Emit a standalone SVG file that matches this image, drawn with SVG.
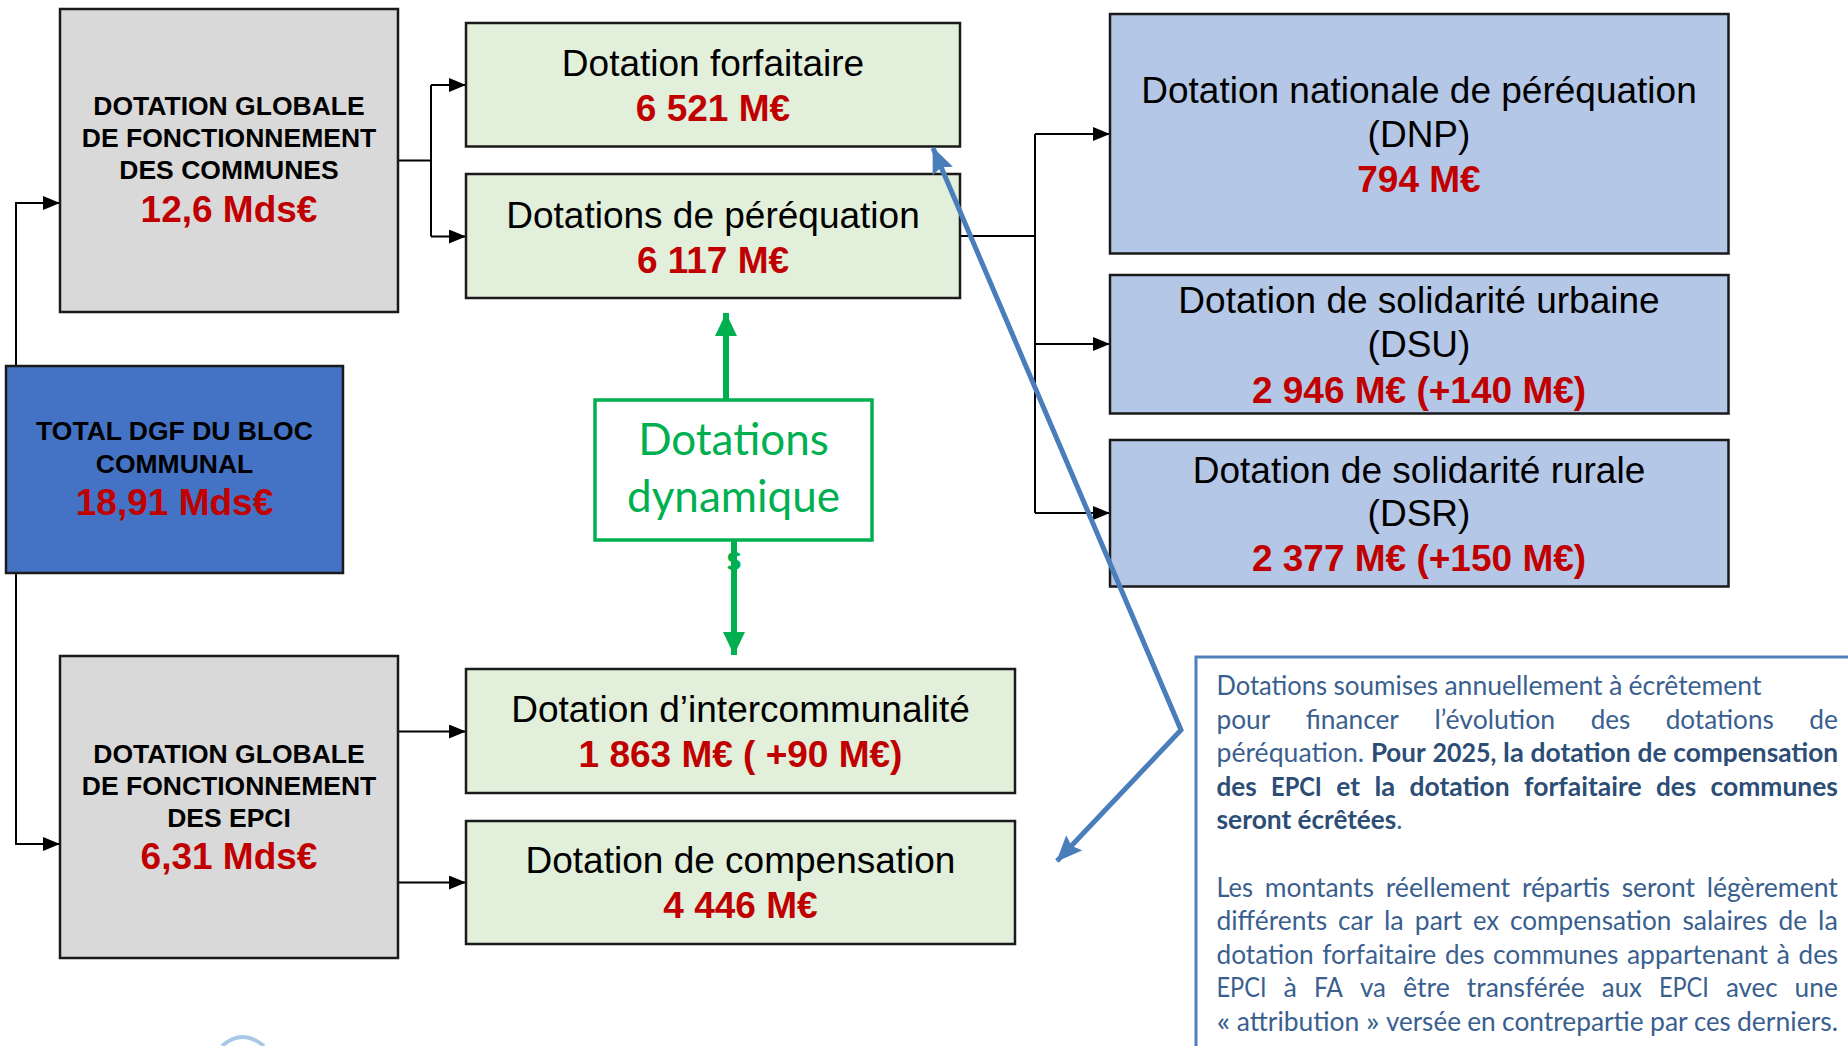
<svg xmlns="http://www.w3.org/2000/svg" width="1848" height="1046" viewBox="0 0 1848 1046">
<style>
.box{stroke:#1a1a1a;stroke-width:2.5}
.grey{fill:#d9d9d9}
.green{fill:#e2efda}
.blue{fill:#b4c7e7}
.total{fill:#4472c4}
.cap{font-family:"Liberation Sans",Arial,sans-serif;font-weight:bold;font-size:26.5px;fill:#000;text-anchor:middle}
.big{font-family:"Liberation Sans",Arial,sans-serif;font-weight:bold;font-size:37px;fill:#c00000;text-anchor:middle}
.lbl{font-family:"Liberation Sans",Arial,sans-serif;font-size:37px;fill:#000;text-anchor:middle}
.dyn{font-family:Lato,"Open Sans",sans-serif;font-size:44px;fill:#00b050;text-anchor:middle}
.note{font-family:Lato,"Open Sans",sans-serif;font-size:26px;fill:#3a5f8f}
.nb{font-weight:bold;fill:#2c4d75}
.conn{stroke:#000;stroke-width:2;fill:none}
</style>
<defs>
<marker id="ah" viewBox="0 0 17 14" refX="17" refY="7" markerWidth="17" markerHeight="14" markerUnits="userSpaceOnUse" orient="auto">
<path d="M0,0 L17,7 L0,14 z" fill="#000"/>
</marker>
<marker id="ahb" viewBox="0 0 26 22" refX="25" refY="11" markerWidth="26" markerHeight="22" markerUnits="userSpaceOnUse" orient="auto-start-reverse">
<path d="M0,0 L26,11 L0,22 L4,11 z" fill="#4a7ebb"/>
</marker>
<marker id="ahg" viewBox="0 0 23 22" refX="23" refY="11" markerWidth="23" markerHeight="22" markerUnits="userSpaceOnUse" orient="auto">
<path d="M0,0 L23,11 L0,22 z" fill="#00b050"/>
</marker>
</defs>
<rect width="1848" height="1046" fill="#fff"/>

<g id="connectors">
<path class="conn" d="M16,366 V203 H60" marker-end="url(#ah)"/>
<path class="conn" d="M16,573 V844 H60" marker-end="url(#ah)"/>
<path class="conn" d="M398,160.5 H431 M431,85 V236.5"/>
<path class="conn" d="M431,85 H466" marker-end="url(#ah)"/>
<path class="conn" d="M431,236.5 H466" marker-end="url(#ah)"/>
<path class="conn" d="M398,731.5 H466" marker-end="url(#ah)"/>
<path class="conn" d="M398,882.5 H466" marker-end="url(#ah)"/>
<path class="conn" d="M960,236 H1035 M1035,134 V513"/>
<path class="conn" d="M1035,134 H1110" marker-end="url(#ah)"/>
<path class="conn" d="M1035,344 H1110" marker-end="url(#ah)"/>
<path class="conn" d="M1035,513 H1110" marker-end="url(#ah)"/>
<path d="M726,400 V313" stroke="#00b050" stroke-width="6" fill="none" marker-end="url(#ahg)"/>
<path d="M734,540 V655" stroke="#00b050" stroke-width="6" fill="none" marker-end="url(#ahg)"/>
</g>

<g id="dgf-communes">
<rect class="box grey" x="60" y="9" width="338" height="303"/>
<text class="cap" x="229" y="115">DOTATION GLOBALE</text>
<text class="cap" x="229" y="147">DE FONCTIONNEMENT</text>
<text class="cap" x="229" y="179">DES COMMUNES</text>
<text class="big" x="229" y="222">12,6 Mds€</text>
</g>

<g id="total-dgf">
<rect class="box total" x="6" y="366" width="337" height="207"/>
<text class="cap" x="174.5" y="440">TOTAL DGF DU BLOC</text>
<text class="cap" x="174.5" y="472.5">COMMUNAL</text>
<text class="big" x="174.5" y="514.5">18,91 Mds€</text>
</g>

<g id="dgf-epci">
<rect class="box grey" x="60" y="656" width="338" height="302"/>
<text class="cap" x="229" y="762.5">DOTATION GLOBALE</text>
<text class="cap" x="229" y="794.5">DE FONCTIONNEMENT</text>
<text class="cap" x="229" y="826.5">DES EPCI</text>
<text class="big" x="229" y="868.5">6,31 Mds€</text>
</g>

<g id="dotation-forfaitaire">
<rect class="box green" x="466" y="23" width="494" height="123.5"/>
<text class="lbl" x="713" y="75.5">Dotation forfaitaire</text>
<text class="big" x="713" y="120.5">6 521 M€</text>
</g>

<g id="dotations-perequation">
<rect class="box green" x="466" y="174" width="494" height="124"/>
<text class="lbl" x="713" y="228">Dotations de péréquation</text>
<text class="big" x="713" y="272.5">6 117 M€</text>
</g>

<g id="dotations-dynamique">
<rect x="595" y="400" width="277" height="140" fill="#fff" stroke="#00b050" stroke-width="3.5"/>
<text class="dyn" x="733.5" y="455">Dotations</text>
<text class="dyn" x="733.5" y="512">dynamique</text>
<text x="734" y="570" font-family="Lato,'Open Sans',sans-serif" font-size="34" font-weight="bold" fill="#00b050" text-anchor="middle">s</text>
</g>

<g id="dotation-intercommunalite">
<rect class="box green" x="466" y="669" width="549" height="124"/>
<text class="lbl" x="740.5" y="722">Dotation d’intercommunalité</text>
<text class="big" x="740.5" y="767">1 863 M€ ( +90 M€)</text>
</g>

<g id="dotation-compensation">
<rect class="box green" x="466" y="821" width="549" height="123"/>
<text class="lbl" x="740.5" y="873">Dotation de compensation</text>
<text class="big" x="740.5" y="918">4 446 M€</text>
</g>

<g id="dnp">
<rect class="box blue" x="1110" y="14" width="618.5" height="239.5"/>
<text class="lbl" x="1419" y="102.5">Dotation nationale de péréquation</text>
<text class="lbl" x="1419" y="147">(DNP)</text>
<text class="big" x="1419" y="191.5">794 M€</text>
</g>

<g id="dsu">
<rect class="box blue" x="1110" y="275" width="618.5" height="138.5"/>
<text class="lbl" x="1419" y="313">Dotation de solidarité urbaine</text>
<text class="lbl" x="1419" y="356.5">(DSU)</text>
<text class="big" x="1419" y="402.5">2 946 M€ (+140 M€)</text>
</g>

<g id="dsr">
<rect class="box blue" x="1110" y="440" width="618.5" height="146.5"/>
<text class="lbl" x="1419" y="483">Dotation de solidarité rurale</text>
<text class="lbl" x="1419" y="526">(DSR)</text>
<text class="big" x="1419" y="571">2 377 M€ (+150 M€)</text>
</g>

<g id="ecretement-arrow">
<path d="M933,148 L1181,730 L1057,861" stroke="#4a7ebb" stroke-width="5" fill="none" stroke-linejoin="miter" marker-start="url(#ahb)" marker-end="url(#ahb)"/>
</g>

<g id="note">
<rect x="1196" y="657" width="660" height="420" fill="#fff" stroke="#4f81bd" stroke-width="3"/>
<text class="note" y="695" lengthAdjust="spacingAndGlyphs"><tspan x="1216.5" textLength="110.6" lengthAdjust="spacingAndGlyphs">Dotations</tspan><tspan x="1333.4" textLength="104.7" lengthAdjust="spacingAndGlyphs">soumises</tspan><tspan x="1444.4" textLength="158.2" lengthAdjust="spacingAndGlyphs">annuellement</tspan><tspan x="1608.9" textLength="13.4" lengthAdjust="spacingAndGlyphs">à</tspan><tspan x="1628.6" textLength="132.8" lengthAdjust="spacingAndGlyphs">écrêtement</tspan></text>
<text class="note" y="728.6"><tspan x="1216.5" textLength="53.8" lengthAdjust="spacingAndGlyphs">pour</tspan><tspan x="1305.8" textLength="93.1" lengthAdjust="spacingAndGlyphs">financer</tspan><tspan x="1434.4" textLength="120.8" lengthAdjust="spacingAndGlyphs">l’évolution</tspan><tspan x="1590.7" textLength="39.5" lengthAdjust="spacingAndGlyphs">des</tspan><tspan x="1665.7" textLength="108.1" lengthAdjust="spacingAndGlyphs">dotations</tspan><tspan x="1809.3" textLength="28.6" lengthAdjust="spacingAndGlyphs">de</tspan></text>
<text class="note" y="762.2"><tspan x="1216.5" textLength="147.6" lengthAdjust="spacingAndGlyphs">péréquation.</tspan><tspan class="nb" x="1370.9" textLength="54.8" lengthAdjust="spacingAndGlyphs">Pour</tspan><tspan class="nb" x="1432.5" textLength="63.8" lengthAdjust="spacingAndGlyphs">2025,</tspan><tspan class="nb" x="1503.1" textLength="20.7" lengthAdjust="spacingAndGlyphs">la</tspan><tspan class="nb" x="1530.6" textLength="100.1" lengthAdjust="spacingAndGlyphs">dotation</tspan><tspan class="nb" x="1637.5" textLength="29" lengthAdjust="spacingAndGlyphs">de</tspan><tspan class="nb" x="1673.3" textLength="164.9" lengthAdjust="spacingAndGlyphs">compensation</tspan></text>
<text class="note nb" y="795.8"><tspan x="1216.5" textLength="40.2" lengthAdjust="spacingAndGlyphs">des</tspan><tspan x="1271.1" textLength="50.7" lengthAdjust="spacingAndGlyphs">EPCI</tspan><tspan x="1336.3" textLength="23.7" lengthAdjust="spacingAndGlyphs">et</tspan><tspan x="1374.4" textLength="20.7" lengthAdjust="spacingAndGlyphs">la</tspan><tspan x="1409.5" textLength="100.1" lengthAdjust="spacingAndGlyphs">dotation</tspan><tspan x="1524.1" textLength="117.5" lengthAdjust="spacingAndGlyphs">forfaitaire</tspan><tspan x="1656" textLength="40.2" lengthAdjust="spacingAndGlyphs">des</tspan><tspan x="1710.6" textLength="127.3" lengthAdjust="spacingAndGlyphs">communes</tspan></text>
<text class="note" y="829.4"><tspan class="nb" x="1216.5" textLength="74.8" lengthAdjust="spacingAndGlyphs">seront</tspan><tspan class="nb" x="1297.6" textLength="98.6" lengthAdjust="spacingAndGlyphs">écrêtées</tspan><tspan x="1396.2">.</tspan></text>
<text class="note" y="896.6"><tspan x="1216.5" textLength="36.5" lengthAdjust="spacingAndGlyphs">Les</tspan><tspan x="1264.7" textLength="109.3" lengthAdjust="spacingAndGlyphs">montants</tspan><tspan x="1385.7" textLength="124.5" lengthAdjust="spacingAndGlyphs">réellement</tspan><tspan x="1521.9" textLength="88.1" lengthAdjust="spacingAndGlyphs">répartis</tspan><tspan x="1621.7" textLength="73.3" lengthAdjust="spacingAndGlyphs">seront</tspan><tspan x="1706.7" textLength="131.2" lengthAdjust="spacingAndGlyphs">légèrement</tspan></text>
<text class="note" y="930.2"><tspan x="1216.5" textLength="110.6" lengthAdjust="spacingAndGlyphs">différents</tspan><tspan x="1338.1" textLength="34.9" lengthAdjust="spacingAndGlyphs">car</tspan><tspan x="1384" textLength="19.8" lengthAdjust="spacingAndGlyphs">la</tspan><tspan x="1414.8" textLength="47.1" lengthAdjust="spacingAndGlyphs">part</tspan><tspan x="1472.9" textLength="26" lengthAdjust="spacingAndGlyphs">ex</tspan><tspan x="1509.9" textLength="161.5" lengthAdjust="spacingAndGlyphs">compensation</tspan><tspan x="1682.4" textLength="85" lengthAdjust="spacingAndGlyphs">salaires</tspan><tspan x="1778.5" textLength="28.6" lengthAdjust="spacingAndGlyphs">de</tspan><tspan x="1818.1" textLength="19.8" lengthAdjust="spacingAndGlyphs">la</tspan></text>
<text class="note" y="963.8"><tspan x="1216.5" textLength="97.2" lengthAdjust="spacingAndGlyphs">dotation</tspan><tspan x="1322.3" textLength="114" lengthAdjust="spacingAndGlyphs">forfaitaire</tspan><tspan x="1444.9" textLength="39.5" lengthAdjust="spacingAndGlyphs">des</tspan><tspan x="1493" textLength="125.3" lengthAdjust="spacingAndGlyphs">communes</tspan><tspan x="1626.9" textLength="141.1" lengthAdjust="spacingAndGlyphs">appartenant</tspan><tspan x="1776.6" textLength="13.4" lengthAdjust="spacingAndGlyphs">à</tspan><tspan x="1798.6" textLength="39.5" lengthAdjust="spacingAndGlyphs">des</tspan></text>
<text class="note" y="997.4"><tspan x="1216.5" textLength="50" lengthAdjust="spacingAndGlyphs">EPCI</tspan><tspan x="1283.5" textLength="13.4" lengthAdjust="spacingAndGlyphs">à</tspan><tspan x="1313.9" textLength="29" lengthAdjust="spacingAndGlyphs">FA</tspan><tspan x="1359.9" textLength="26" lengthAdjust="spacingAndGlyphs">va</tspan><tspan x="1402.9" textLength="46.9" lengthAdjust="spacingAndGlyphs">être</tspan><tspan x="1466.8" textLength="118" lengthAdjust="spacingAndGlyphs">transférée</tspan><tspan x="1601.8" textLength="40.1" lengthAdjust="spacingAndGlyphs">aux</tspan><tspan x="1658.9" textLength="50" lengthAdjust="spacingAndGlyphs">EPCI</tspan><tspan x="1725.9" textLength="51.7" lengthAdjust="spacingAndGlyphs">avec</tspan><tspan x="1794.6" textLength="43.2" lengthAdjust="spacingAndGlyphs">une</tspan></text>
<text class="note" y="1031"><tspan x="1216.5" textLength="13.9" lengthAdjust="spacingAndGlyphs">«</tspan><tspan x="1236.7" textLength="122.7" lengthAdjust="spacingAndGlyphs">attribution</tspan><tspan x="1365.7" textLength="13.9" lengthAdjust="spacingAndGlyphs">»</tspan><tspan x="1385.9" textLength="75" lengthAdjust="spacingAndGlyphs">versée</tspan><tspan x="1467.2" textLength="28.6" lengthAdjust="spacingAndGlyphs">en</tspan><tspan x="1502.1" textLength="141.6" lengthAdjust="spacingAndGlyphs">contrepartie</tspan><tspan x="1650" textLength="37.8" lengthAdjust="spacingAndGlyphs">par</tspan><tspan x="1694.1" textLength="36.6" lengthAdjust="spacingAndGlyphs">ces</tspan><tspan x="1737" textLength="101" lengthAdjust="spacingAndGlyphs">derniers.</tspan></text>
</g>

<path d="M222,1046 Q242,1028 264,1046" stroke="#a9c8e8" stroke-width="4" fill="none"/>
</svg>
